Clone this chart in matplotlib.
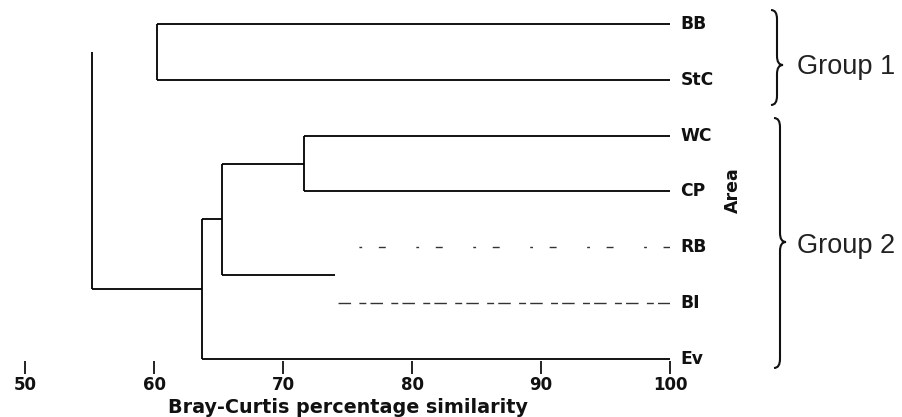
import numpy as np
import matplotlib
matplotlib.use('Agg')
import matplotlib.pyplot as plt
from matplotlib.path import Path
from matplotlib.patches import PathPatch

plt.rcParams['font.family'] = ['DejaVu Sans']

# leaves, top to bottom
areas = ['BB', 'StC', 'WC', 'CP', 'RB', 'BI', 'Ev']

# merges (left, right, similarity) ; new clusters get ids 7, 8, ...
merges = [
    (0, 1, 60.2),    # 7  BB + StC
    (2, 3, 71.6),    # 8  WC + CP
    (4, 5, 74.0),    # 9  RB + BI
    (8, 9, 65.3),    # 10
    (10, 6, 63.7),   # 11 + Ev
    (7, 11, 55.2),   # 12 root
]

xticks = [50, 60, 70, 80, 90, 100]
groups = ['Group 1', 'Group 2']

# bits that faded out of the scanned original
faint_dashes = {'RB': (5, 12, 2, 22), 'BI': (9, 3, 5, 6)}
lost_links = [(7, 12)]   # (child, parent)
lost_stems = [9]

W, H = 903, 417
fig = plt.figure(figsize=(W / 100, H / 100), dpi=100)

# axes placed so that 50..100 sits at px 25..670 and rows at px 24 + 55.83*i
row_px = 55.83
top_px, bot_px = 0, 361
ax = fig.add_axes([25 / W, 1 - bot_px / H, (670 - 25) / W, (bot_px - top_px) / H])
ax.set_xlim(50, 100)
ax.set_ylim((bot_px - 24) / row_px, (top_px - 24) / row_px)

lw = 1.3
xpos = {i: 100.0 for i in range(len(areas))}
ypos = {i: float(i) for i in range(len(areas))}

for k, (a, b, sim) in enumerate(merges):
    node = len(areas) + k
    for c in (a, b):
        if (c, node) in lost_links:
            continue
        if c < len(areas) and areas[c] in faint_dashes:
            ax.plot([xpos[c], sim], [ypos[c], ypos[c]], color='#333333', lw=1.0,
                    dashes=faint_dashes[areas[c]])
        else:
            ax.plot([xpos[c], sim], [ypos[c], ypos[c]], color='black', lw=lw,
                    solid_capstyle='butt')
    if node not in lost_stems:
        ax.plot([sim, sim], [ypos[a], ypos[b]], color='black', lw=lw,
                solid_capstyle='butt')
    xpos[node] = sim
    ypos[node] = (ypos[a] + ypos[b]) / 2

for i, name in enumerate(areas):
    ax.text(100.8, i, name, ha='left', va='center', fontsize=12.3,
            fontweight='bold', color='#111111', clip_on=False)

ax.text(104.9, 2.97, 'Area', rotation=90, ha='center', va='center',
        fontsize=12.5, fontweight='bold', color='#111111', clip_on=False)

for s in ax.spines.values():
    s.set_visible(False)
ax.set_yticks([])
ax.set_xticks(xticks)
ax.tick_params(axis='x', direction='out', length=9, width=1.3, pad=2,
               labelsize=12, colors='#111111')
for lab in ax.get_xticklabels():
    lab.set_fontweight('bold')
ax.set_xlabel('Bray-Curtis percentage similarity', fontsize=13.8,
              fontweight='bold', color='#111111', labelpad=3)

# overlay in pixel coordinates for the braces and group names
ov = fig.add_axes([0, 0, 1, 1])
ov.set_xlim(0, W)
ov.set_ylim(H, 0)
ov.axis('off')


def brace(x, y0, y1, ym, w=6, r=9):
    verts = [(x - w, y0), (x, y0), (x, y0 + r),
             (x, ym - r), (x, ym), (x + w, ym),
             (x, ym), (x, ym + r),
             (x, y1 - r), (x, y1), (x - w, y1)]
    codes = [Path.MOVETO, Path.CURVE3, Path.CURVE3,
             Path.LINETO, Path.CURVE3, Path.CURVE3,
             Path.CURVE3, Path.CURVE3,
             Path.LINETO, Path.CURVE3, Path.CURVE3]
    ov.add_patch(PathPatch(Path(verts, codes), fill=False, lw=1.5, color='#111111'))


brace(777, 10, 105, 65)
brace(780, 118, 368, 242)
ov.text(797, 67, groups[0], ha='left', va='center', fontsize=19.5,
        family='Liberation Sans', color='#222222')
ov.text(797, 246, groups[1], ha='left', va='center', fontsize=19.5,
        family='Liberation Sans', color='#222222')

fig.savefig('out.png', dpi=100)
